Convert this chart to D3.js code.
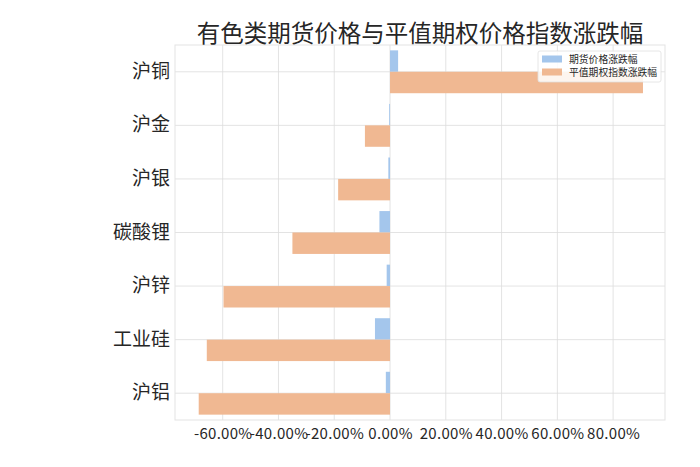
<!DOCTYPE html>
<html><head><meta charset="utf-8">
<script src="https://cdn.jsdelivr.net/npm/d3@7"></script>
<style>
body{margin:0;background:#fff;}
svg text{font-family:"Noto Sans CJK SC","Noto Sans",sans-serif;fill:#262626;}
</style></head>
<body><svg id="chart" width="700" height="467"></svg>
<script>
const categories = ["沪铜","沪金","沪银","碳酸锂","沪锌","工业硅","沪铝"];
const futuresChange = [2.9, -0.3, -0.6, -3.8, -1.2, -5.4, -1.5];
const optionIndexChange = [90.7, -9.0, -18.6, -35.0, -59.7, -65.7, -68.6];
const seriesNames = ["期货价格涨跌幅","平值期权指数涨跌幅"];
const xTicks = [-60, -40, -20, 0, 20, 40, 60, 80];
const titleText = "有色类期货价格与平值期权价格指数涨跌幅";

const colors = ["#a4c6ec", "#f0b892"];
const m = {left:175, right:665, top:45, bottom:420};
const svg = d3.select("#chart");

const x = d3.scaleLinear().domain([-77.1, 98.6]).range([m.left, m.right]);
const y = d3.scaleBand().domain(categories).range([m.top, m.bottom]).padding(0);
const barH = y.bandwidth()*0.4;

// grid
const g = svg.append("g");
g.selectAll(".vg").data(xTicks).join("line")
  .attr("x1", d=>x(d)).attr("x2", d=>x(d)).attr("y1", m.top).attr("y2", m.bottom)
  .attr("stroke", "#dcdcdc").attr("stroke-width", 0.8);
g.selectAll(".hg").data(categories).join("line")
  .attr("x1", m.left).attr("x2", m.right)
  .attr("y1", d=>y(d)+y.bandwidth()/2).attr("y2", d=>y(d)+y.bandwidth()/2)
  .attr("stroke", "#dcdcdc").attr("stroke-width", 0.8);

// bars
svg.append("g").selectAll("rect").data(categories).join("rect")
  .attr("x", (d,i)=>Math.min(x(0), x(futuresChange[i])))
  .attr("width", (d,i)=>Math.abs(x(futuresChange[i])-x(0)))
  .attr("y", d=>y(d)+y.bandwidth()/2-barH)
  .attr("height", barH).attr("fill", colors[0]);
svg.append("g").selectAll("rect").data(categories).join("rect")
  .attr("x", (d,i)=>Math.min(x(0), x(optionIndexChange[i])))
  .attr("width", (d,i)=>Math.abs(x(optionIndexChange[i])-x(0)))
  .attr("y", d=>y(d)+y.bandwidth()/2)
  .attr("height", barH).attr("fill", colors[1]);

// frame
svg.append("rect").attr("x", m.left).attr("y", m.top)
  .attr("width", m.right-m.left).attr("height", m.bottom-m.top)
  .attr("fill", "none").attr("stroke", "#e3e3e3").attr("stroke-width", 1);

// x axis
const xAxis = d3.axisBottom(x).tickValues(xTicks)
  .tickFormat(d => (d<0?"-":"") + Math.abs(d).toFixed(2) + "%")
  .tickSize(0).tickPadding(8);
const xa = svg.append("g").attr("transform", `translate(0,${m.bottom})`).call(xAxis);
xa.select(".domain").remove();
xa.selectAll("text").style("font-size", "15px").style("letter-spacing", "0.3px").attr("fill", "#262626");

// y axis
const yAxis = d3.axisLeft(y).tickSize(0).tickPadding(5);
const ya = svg.append("g").attr("transform", `translate(${m.left},0)`).call(yAxis);
ya.select(".domain").remove();
ya.selectAll("text").style("font-size", "19px").attr("fill", "#262626");

// title
svg.append("text").attr("x", (m.left+m.right)/2).attr("y", 42)
  .attr("text-anchor", "middle").style("font-size", "23.5px").text(titleText);

// legend
const lg = svg.append("g");
lg.append("rect").attr("x", 538).attr("y", 51).attr("width", 123).attr("height", 31)
  .attr("rx", 2).attr("fill", "#fff").attr("fill-opacity", 0.85)
  .attr("stroke", "#e0e0e0").attr("stroke-width", 0.8);
seriesNames.forEach((n,i)=>{
  lg.append("rect").attr("x", 542).attr("y", 55.5+i*13).attr("width", 20).attr("height", 7)
    .attr("fill", colors[i]);
  lg.append("text").attr("x", 569).attr("y", 62.5+i*13).style("font-size", "9.8px").text(n);
});
</script></body></html>
